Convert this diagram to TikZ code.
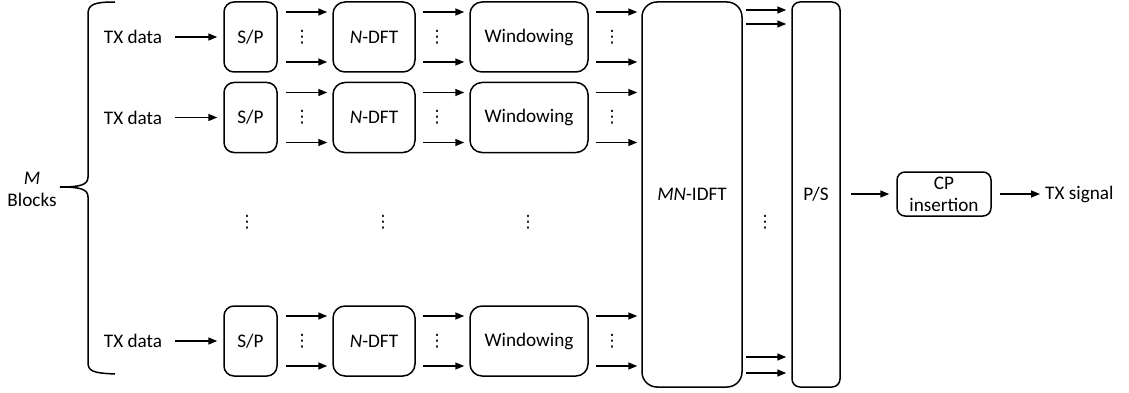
\documentclass[tikz,border=0pt]{standalone}
\usepackage{fontspec}
\setmainfont{Carlito}
\newfontfamily\symfont{DejaVu Sans}
\usetikzlibrary{arrows.meta}
\begin{document}
\begin{tikzpicture}[x=1pt,y=-1pt,
  font=\fontsize{19.2}{22}\selectfont,
  blk/.style={draw,line width=1.5pt,rounded corners=10pt,inner sep=0pt,
              minimum height=70pt,align=center},
  arr/.style={line width=1.5pt,-{Triangle[length=9pt,width=7pt]},
              shorten >=5pt,shorten <=7pt},
  lbl/.style={inner sep=0pt,align=center},
  vd/.style={inner sep=0pt,font=\symfont\fontsize{17}{17}\selectfont}]
\useasboundingbox (0,0) rectangle (1129,393);

% one chain per block
\foreach \r/\y in {1/37,2/117.5,3/341}{
  \node[lbl] (tx\r) at (133,\y) {TX data};
  \node[blk,minimum width=53pt] (sp\r) at (250.5,\y) {S/P};
  \node[blk,minimum width=82pt,rounded corners=12pt] (dft\r) at (374,\y) {\textit{N}-DFT};
  \node[blk,minimum width=118pt,rounded corners=12pt] (win\r) at (529,\y) {Windowing};
  \node[vd] (d1\r) at (302,\y) {⋮};
  \node[vd] (d2\r) at (437,\y) {⋮};
  \node[vd] (d3\r) at (612,\y) {⋮};
  \coordinate (wt\r) at ([yshift=25pt]win\r.east);
  \coordinate (wb\r) at ([yshift=-25pt]win\r.east);
}

% common stages
\node[blk,minimum width=100pt,minimum height=385pt,rounded corners=15pt] (mn) at (692,194.5) {\textit{MN}-IDFT};
\node[blk,minimum width=48pt,minimum height=385pt,rounded corners=8pt] (ps) at (816,194.5) {P/S};
\node[blk,minimum width=94pt,minimum height=44pt,rounded corners=8pt] (cp) at (944,194) {CP\\insertion};
\node[lbl,anchor=west] (sig) at (1045,194) {TX signal};

% skipped blocks
\node[vd] (m1) at (247,222) {⋮};
\node[vd] (m2) at (383,222) {⋮};
\node[vd] (m3) at (528,222) {⋮};
\node[vd] (m4) at (765,222) {⋮};

% brace with label
\node[lbl] (mb) at (32,189) {\textit{M}\\Blocks};
\draw[line width=1.5pt] (115,2) .. controls (95,2) and (88,4) .. (88,14)
  -- (88,177) .. controls (88,185) and (80,187) .. (60,187)
  .. controls (80,187) and (88,189) .. (88,197)
  -- (88,362) .. controls (88,371) and (92,373) .. (115,374);

% connectors
\foreach \r in {1,2,3}{
  \draw[arr,shorten <=13pt,shorten >=6pt] (tx\r) -- (sp\r);
  \draw[arr,shorten <=8pt] ([yshift=25pt]sp\r.east) -- ([yshift=25pt]dft\r.west);
  \draw[arr,shorten <=8pt] ([yshift=-25pt]sp\r.east) -- ([yshift=-25pt]dft\r.west);
  \draw[arr] ([yshift=25pt]dft\r.east) -- ([yshift=25pt]win\r.west);
  \draw[arr] ([yshift=-25pt]dft\r.east) -- ([yshift=-25pt]win\r.west);
  \draw[arr,shorten >=4pt] (wt\r) -- (mn.west |- wt\r);
  \draw[arr,shorten >=4pt] (wb\r) -- (mn.west |- wb\r);
}
\foreach \yy in {10,24,357,373}{
  \draw[arr,shorten <=3pt] (mn.east |- 0,\yy) -- (ps.west |- 0,\yy);
}
\draw[arr,shorten <=10pt,shorten >=7pt] (ps.east |- cp.west) -- (cp.west);
\draw[arr,shorten <=8pt] (cp.east) -- (sig.west);
\end{tikzpicture}
\end{document}
